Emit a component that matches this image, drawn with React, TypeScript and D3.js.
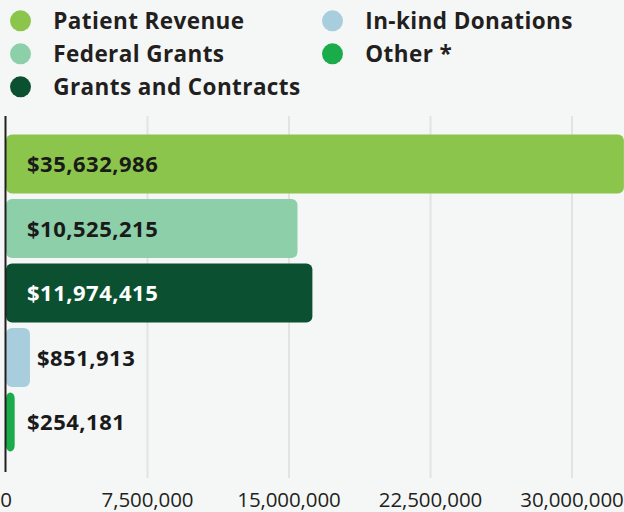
import React from "react";
import * as d3 from "d3";

const categories = ["Patient Revenue", "Federal Grants", "Grants and Contracts", "In-kind Donations", "Other *"];
const amounts = [35632986, 10525215, 11974415, 851913, 254181];
// bar lengths as drawn against the axis in the picture
const barValues = [32750000, 15450000, 16240000, 1270000, 460000];
const colors = ["#8bc54b", "#8ccfa9", "#0b5131", "#a8cddc", "#1aab4b"];
const labelColors = ["#1a1a1a", "#1a1a1a", "#ffffff", "#1a1a1a", "#1a1a1a"];
const tickValues = [0, 7500000, 15000000, 22500000, 30000000];

const W = 624;
const H = 512;

export default function App() {
  const x = d3.scaleLinear().domain([0, 30000000]).range([6, 572]);
  const y = d3.scaleBand<string>().domain(categories).range([132, 454.2]).paddingInner(0.085).paddingOuter(0.04);
  const fmtTick = d3.format(",");
  const fmtAmt = (v: number) => "$" + d3.format(",")(v);
  const font = "'Open Sans', 'Noto Sans', sans-serif";

  const legendCols = [0, 0, 0, 1, 1];
  const legendRows = [0, 1, 2, 0, 1];

  return (
    <svg width={W} height={H} style={{ position: "absolute", left: 0, top: 0, display: "block" }}>
      <defs>
        <clipPath id="plotclip">
          <rect x={0} y={0} width={W} height={H} />
        </clipPath>
      </defs>
      <rect x={0} y={0} width={W} height={H} fill="#f5f7f7" />
      {/* legend */}
      {categories.map((c, i) => {
        const cx = 20.5 + legendCols[i] * 312;
        const cy = 20.8 + legendRows[i] * 33;
        return (
          <g key={c}>
            <circle cx={cx} cy={cy} r={10.5} fill={colors[i]} />
            <text x={cx + 32.8} y={cy + 8.2} fontFamily={font} fontWeight={700} fontSize={22.5} fill="#231f20" letterSpacing={0.4}>
              {c}
            </text>
          </g>
        );
      })}
      {/* gridlines */}
      {tickValues.slice(1).map((t) => (
        <line key={t} x1={x(t)} x2={x(t)} y1={116} y2={478} stroke="#e2e4e4" strokeWidth={2} />
      ))}
      {/* bars */}
      <g clipPath="url(#plotclip)">
        {categories.map((c, i) => (
          <rect key={c} x={x(0)} y={y(c)} width={x(barValues[i]) - x(0)} height={y.bandwidth()} rx={6} ry={6} fill={colors[i]} />
        ))}
      </g>
      {/* axis line */}
      <line x1={5.5} x2={5.5} y1={116} y2={472} stroke="#231f20" strokeWidth={2} />
      {/* value labels */}
      {categories.map((c, i) => {
        const end = x(barValues[i]);
        const inside = end - x(0) > 150;
        const lx = inside ? 27 : Math.max(27, end + 7);
        return (
          <text key={c} x={lx} y={(y(c) as number) + y.bandwidth() / 2 + 8} fontFamily={font} fontWeight={700} fontSize={22} fill={labelColors[i]} letterSpacing={0.5}>
            {fmtAmt(amounts[i])}
          </text>
        );
      })}
      {/* tick labels */}
      {tickValues.map((t) => (
        <text key={t} x={x(t)} y={506.5} textAnchor="middle" fontFamily={font} fontSize={20.5} fill="#231f20" letterSpacing={-0.1}>
          {fmtTick(t)}
        </text>
      ))}
    </svg>
  );
}
